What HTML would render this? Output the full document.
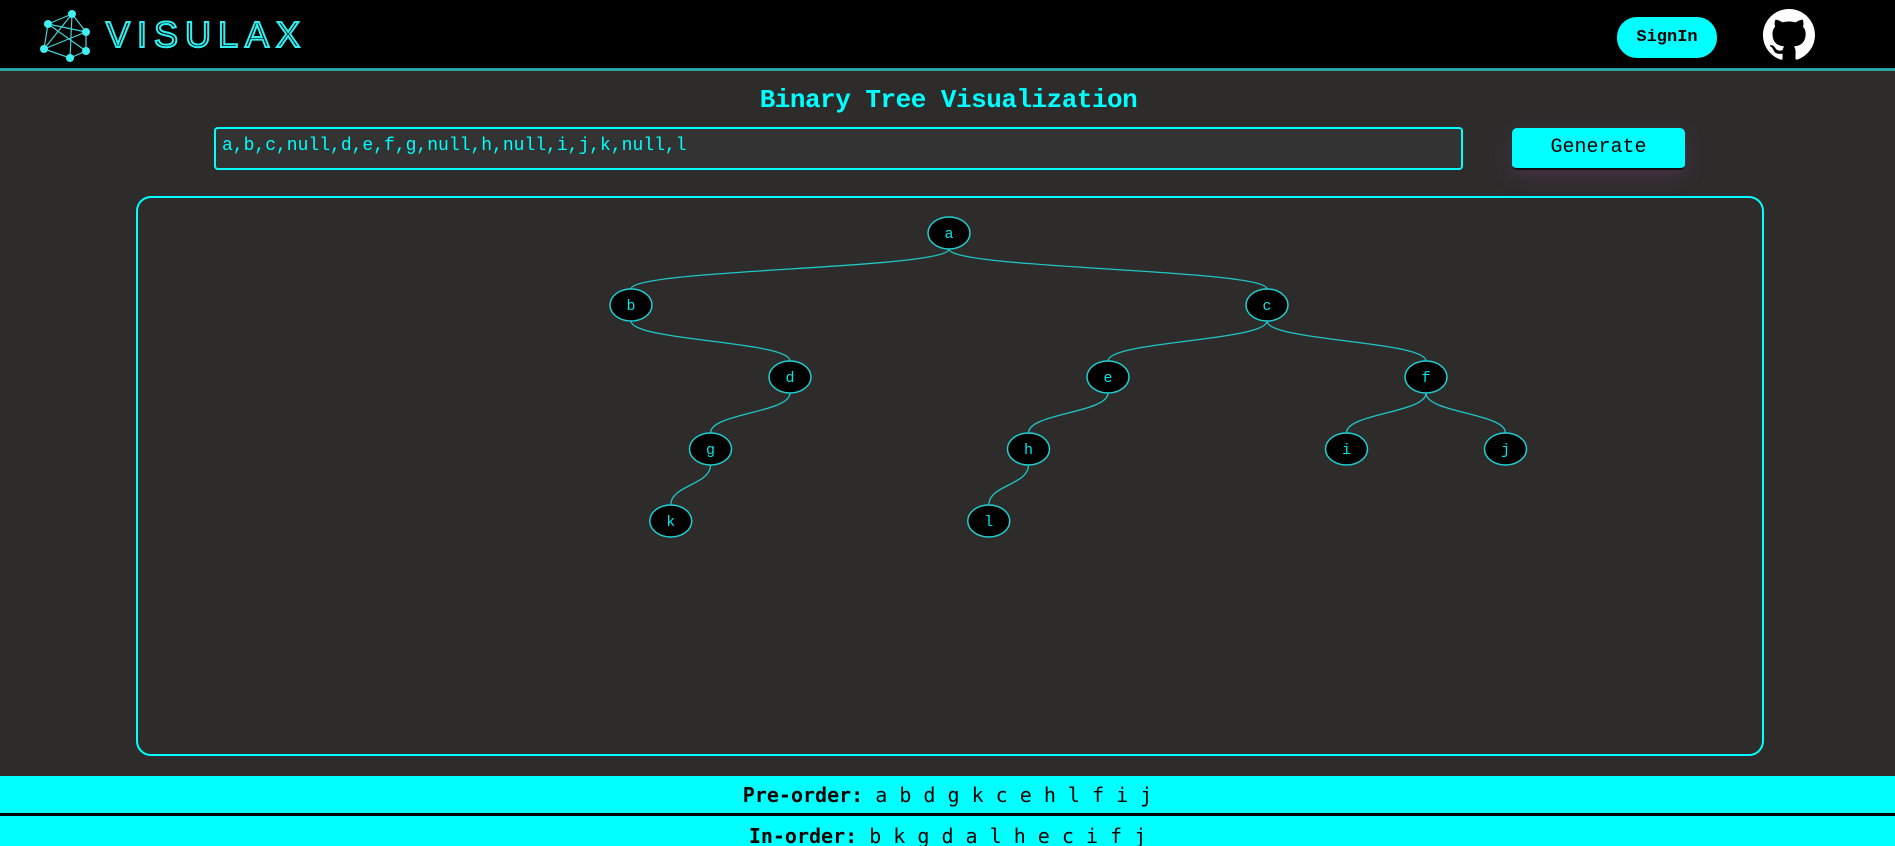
<!DOCTYPE html>
<html style="width:1895px;height:846px;overflow:hidden"><head><meta charset="utf-8"><style>
*{box-sizing:border-box;margin:0;padding:0}
body{width:1895px;height:846px;overflow:hidden;background:#2d2c2b;font-family:"Liberation Mono",monospace;position:relative}
.hdr{position:absolute;left:0;top:0;width:1895px;height:71px;background:#000;border-bottom:3px solid #2aa3a3}
.abs{position:absolute}
</style></head><body>
<div class="hdr">
  <svg class="abs" style="left:40px;top:8px" width="54" height="56">
    <g stroke="#3fd6d6" stroke-width="1.2" fill="none">
      <path d="M32 6 L8 16 L4 41 L30 50 L46 43 L46 24 Z M32 6 L30 50 M8 16 L46 43 M8 16 L46 24 M4 41 L46 24 M32 6 L4 41"/>
    </g>
    <g fill="#3ff0f0"><circle cx="32" cy="6" r="4"/><circle cx="8" cy="16" r="4"/><circle cx="46" cy="24" r="4"/><circle cx="4" cy="41" r="4"/><circle cx="46" cy="43" r="4"/><circle cx="30" cy="50" r="4"/></g>
  </svg>
  <div class="abs" style="left:106px;top:14px;font:36px 'Liberation Sans',sans-serif;letter-spacing:7px;color:transparent;-webkit-text-stroke:2px #2ff0f0">VISULAX</div>
  <div class="abs" style="left:1617px;top:17px;width:100px;height:41px;border-radius:20px;background:#00ffff;color:#000;font-size:17px;font-weight:bold;text-align:center;line-height:41px">SignIn</div>
  <svg class="abs" style="left:1763px;top:9px" width="52" height="52" viewBox="0 0 16 16"><path fill="#fff" d="M8 0C3.580 0 0 3.58 0 8c0 3.54 2.29 6.53 5.47 7.59.4.07.55-.17.55-.38 0-.19-.01-.82-.01-1.490-2.01.37-2.53-.49-2.69-.94-.09-.23-.48-.94-.82-1.13-.28-.15-.68-.52-.01-.53.63-.01 1.08.58 1.230.82.72 1.21 1.87.87 2.33.66.07-.52.28-.87.51-1.070-1.780-.2-3.64-.89-3.64-3.95 0-.87.31-1.59.82-2.15-.08-.2-.36-1.020.08-2.12 0 0 .67-.21 2.2.82.64-.18 1.32-.27 2-.27.68 0 1.36.09 2 .27 1.53-1.04 2.2-.82 2.2-.82.44 1.1.16 1.92.08 2.12.51.56.82 1.27.82 2.15 0 3.07-1.87 3.75-3.65 3.95.29.25.54.73.54 1.48 0 1.07-.01 1.93-.01 2.2 0 .21.15.46.55.38A8.013 8.013 0 0016 8c0-4.42-3.58-8-8-8z"/></svg>
</div>
<div class="abs" style="left:0;top:85px;width:1897px;text-align:center;color:#00ffff;font-size:26px;font-weight:bold;letter-spacing:-0.5px">Binary Tree Visualization</div>
<div class="abs" style="left:214px;top:127px;width:1249px;height:43px;border:2px solid #00ffff;border-radius:4px;background:#333;color:#00ffff;font-size:18px;padding:7px 6px">a,b,c,null,d,e,f,g,null,h,null,i,j,k,null,l</div>
<div class="abs" style="left:1512px;top:128px;width:173px;height:42px;border-radius:5px;background:#00ffff;color:#000;font-size:20px;text-align:center;line-height:40px;border-bottom:2px solid #111;box-shadow:0 6px 18px rgba(120,60,120,.35)">Generate</div>
<div class="abs" style="left:136px;top:196px;width:1628px;height:560px;border:2px solid #00ffff;border-radius:15px"></div>
<svg id="tree" class="abs" style="left:0;top:0" width="1895" height="846"></svg>
<div class="abs" style="left:0;top:776px;width:1895px;height:37px;background:#00ffff;text-align:center;font-size:20px;line-height:38px;color:#000;font-family:'DejaVu Sans Mono',monospace"><b>Pre-order:</b> a b d g k c e h l f i j</div>
<div class="abs" style="left:0;top:813px;width:1895px;height:3px;background:#000"></div>
<div class="abs" style="left:0;top:816px;width:1895px;height:30px;background:#00ffff;text-align:center;font-size:20px;line-height:40px;color:#000;font-family:'DejaVu Sans Mono',monospace;overflow:hidden"><b>In-order:</b> b k g d a l h e c i f j</div>
<script>
const values = ["a","b","c",null,"d","e","f","g",null,"h",null,"i","j","k",null,"l"];
const rootX = 949, rootY = 233, levelGap = 72, baseOffset = 318, rx = 21, ry = 16;
const svg = document.getElementById('tree');
const NS = 'http://www.w3.org/2000/svg';
const nodes = [];
let root = {v: values[0], x: rootX, y: rootY, d: 0};
nodes.push(root);
const queue = [root]; let i = 1;
while (queue.length && i < values.length) {
  const p = queue.shift();
  for (const side of [-1, 1]) {
    if (i >= values.length) break;
    const v = values[i++];
    if (v !== null) {
      const off = baseOffset / Math.pow(2, p.d);
      const c = {v, x: p.x + side * off, y: p.y + levelGap, d: p.d + 1, parent: p};
      nodes.push(c); queue.push(c);
    }
  }
}
for (const n of nodes) {
  if (!n.parent) continue;
  const p = n.parent;
  const sy = p.y + ry, ty = n.y - ry, my = (sy + ty) / 2;
  const path = document.createElementNS(NS, 'path');
  path.setAttribute('d', `M${p.x},${sy} C${p.x},${my} ${n.x},${my} ${n.x},${ty}`);
  path.setAttribute('fill', 'none');
  path.setAttribute('stroke', '#1fc6c6');
  path.setAttribute('stroke-width', '1.3');
  
  
  svg.appendChild(path);
}
for (const n of nodes) {
  const g = document.createElementNS(NS, 'g');
  
  
  const e = document.createElementNS(NS, 'ellipse');
  e.setAttribute('cx', n.x); e.setAttribute('cy', n.y);
  e.setAttribute('rx', rx); e.setAttribute('ry', ry);
  e.setAttribute('fill', '#000'); e.setAttribute('stroke', '#1fd0d0'); e.setAttribute('stroke-width', '1.5');
  g.appendChild(e);
  const t = document.createElementNS(NS, 'text');
  t.setAttribute('x', n.x); t.setAttribute('y', n.y + 5);
  t.setAttribute('text-anchor', 'middle');
  t.setAttribute('fill', '#00e5e5');
  t.setAttribute('font-size', '15');
  t.setAttribute('font-family', 'Liberation Mono, monospace');
  t.textContent = n.v;
  g.appendChild(t);
  svg.appendChild(g);
}
</script>
</body></html>
